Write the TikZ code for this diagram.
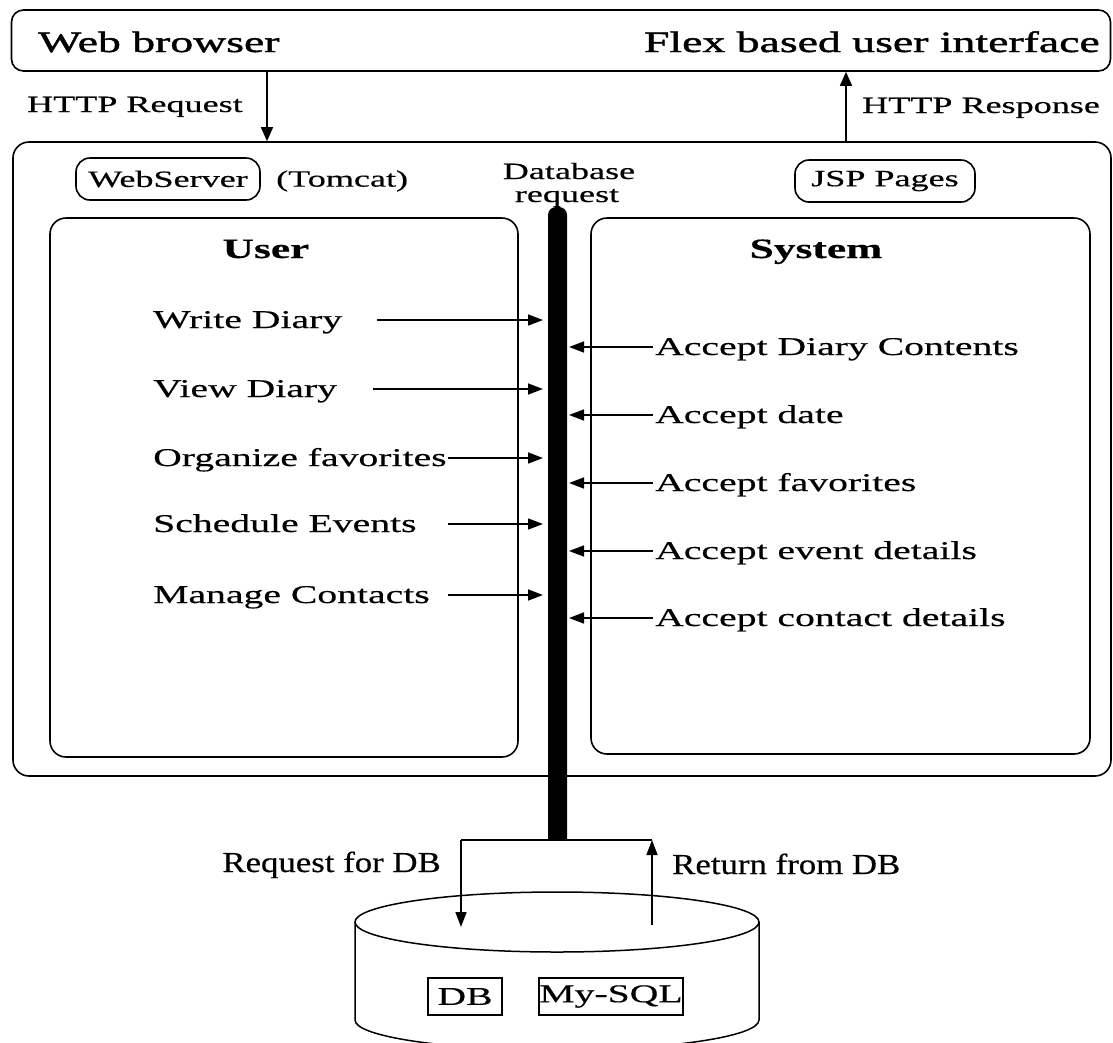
\documentclass[tikz,border=0pt]{standalone}
\usepackage{fontspec}
\setmainfont{Liberation Serif}[FakeStretch=1.55,FakeBold=0.4]
\newfontfamily\narrowfont{Liberation Serif}[FakeStretch=1.2,FakeBold=0.4]
\newfontfamily\headfont{Liberation Serif}[FakeStretch=1.55,FakeBold=1.5]
\usetikzlibrary{arrows.meta}
\begin{document}
\begin{tikzpicture}[x=1pt,y=-1pt,
  box/.style={draw, line width=1.6pt, rounded corners=#1, inner sep=0pt},
  box/.default=14pt,
  lbl/.style={inner sep=0pt, font=\fontsize{23.3}{23}\selectfont},
  item/.style={inner sep=0pt, font=\fontsize{25.6}{28}\selectfont},
  head/.style={inner sep=0pt, font=\headfont\fontsize{29.5}{32}\selectfont},
  ttl/.style={inner sep=0pt, font=\fontsize{28}{30}\selectfont\bfseries},
  dblbl/.style={inner sep=0pt, font=\narrowfont\fontsize{29}{30}\selectfont},
  arr/.style={-{Triangle[length=15pt,width=11pt]}, line width=1.5pt},
  harr/.style={-{Triangle[length=14pt,width=12pt]}, line width=1.5pt},
  ln/.style={line width=1.5pt}]
\useasboundingbox (0,0) rectangle (1113,1042);
% frames
\node[box=12pt, minimum width=1099pt, minimum height=61pt] (top) at (561,40.5) {};
\node[box=16pt, minimum width=1098pt, minimum height=634pt] (main) at (562,459) {};
\node[box=16pt, minimum width=468pt, minimum height=539pt] (user) at (284,487.5) {};
\node[box=16pt, minimum width=499pt, minimum height=536pt] (sys) at (840.5,486) {};
% headings
\node[head, anchor=base west] (wb) at (38,52) {Web browser};
\node[head, anchor=base east] (flex) at (1100,52) {Flex based user interface};
% HTTP arrows
\coordinate (rq) at (267,0);
\coordinate (rs) at (846,0);
\draw[harr] (rq |- top.south) -- (rq |- main.north);
\draw[harr] (rs |- main.north) -- (rs |- top.south);
\node[lbl, anchor=base east] (hreq) at (243,112) {HTTP Request};
\node[lbl, anchor=base west] (hres) at (862,113) {HTTP Response};
% server labels
\node[box=14pt, lbl, draw, minimum width=184pt, minimum height=42pt] (ws) at (168,179) {WebServer};
\node[lbl, anchor=west] (tom) at (276,181) {(Tomcat)};
\node[box=14pt, lbl, draw, minimum width=180pt, minimum height=42pt] (jsp) at (885,181) {JSP Pages};
\node[lbl, anchor=base] (dbr1) at (569,179) {Database};
\node[lbl, anchor=base] (dbr2) at (567,202) {request};
% titles
\node[ttl, anchor=base] (ut) at (266,258) {User};
\node[ttl, anchor=base] (st) at (816,258) {System};
% thick bar
\fill (548,840) [rounded corners=8pt] -- (548,207) -- (567,207) [sharp corners] -- (567,840) -- cycle;
\coordinate (barL) at (543,0);
\coordinate (barR) at (569,0);
% user items
\node[item, anchor=base west] (u1) at (153,328) {Write Diary};
\node[item, anchor=base west] (u2) at (153,397) {View Diary};
\node[item, anchor=base west] (u3) at (153,466) {Organize favorites};
\node[item, anchor=base west] (u4) at (153,532) {Schedule Events};
\node[item, anchor=base west] (u5) at (153,603) {Manage Contacts};
\coordinate (u1s) at (377,320);
\coordinate (u2s) at (373,389);
\coordinate (u3s) at (448,458);
\coordinate (u4s) at (448,524);
\coordinate (u5s) at (448,595);
\foreach \s in {u1s,u2s,u3s,u4s,u5s} \draw[arr] (\s) -- (\s -| barL);
% system items
\node[item, anchor=base west] (s1) at (655,355) {Accept Diary Contents};
\node[item, anchor=base west] (s2) at (655,423) {Accept date};
\node[item, anchor=base west] (s3) at (655,491) {Accept favorites};
\node[item, anchor=base west] (s4) at (655,559) {Accept event details};
\node[item, anchor=base west] (s5) at (655,626) {Accept contact details};
\coordinate (s1s) at (653,347);
\coordinate (s2s) at (653,415);
\coordinate (s3s) at (653,483);
\coordinate (s4s) at (653,551);
\coordinate (s5s) at (653,618);
\foreach \s in {s1s,s2s,s3s,s4s,s5s} \draw[arr] (\s) -- (\s -| barR);
% database
\draw[ln] (557,922) ellipse[x radius=202pt, y radius=30pt];
\draw[ln] (355,922) -- (355,1020) arc[start angle=180, end angle=360, x radius=202pt, y radius=30pt] -- (759,922);
\coordinate (dL) at (461,840);
\coordinate (dR) at (652,840);
\coordinate (dLe) at (461,927);
\coordinate (dRe) at (652,925);
\draw[ln] (dL) -- (dR);
\draw[arr] (dL) -- (dLe);
\draw[arr] (dRe) -- (dR);
\node[dblbl, anchor=base east] (rfd) at (441,872) {Request for DB};
\node[dblbl, anchor=base west] (rtd) at (672,874) {Return from DB};
\node[draw, line width=1.4pt, item, minimum width=74pt, minimum height=37pt] (dbb) at (465,996.5) {DB};
\node[draw, line width=1.4pt, item, minimum width=144pt, minimum height=37pt] (sql) at (611,996.5) {My-SQL};
\end{tikzpicture}
\end{document}
